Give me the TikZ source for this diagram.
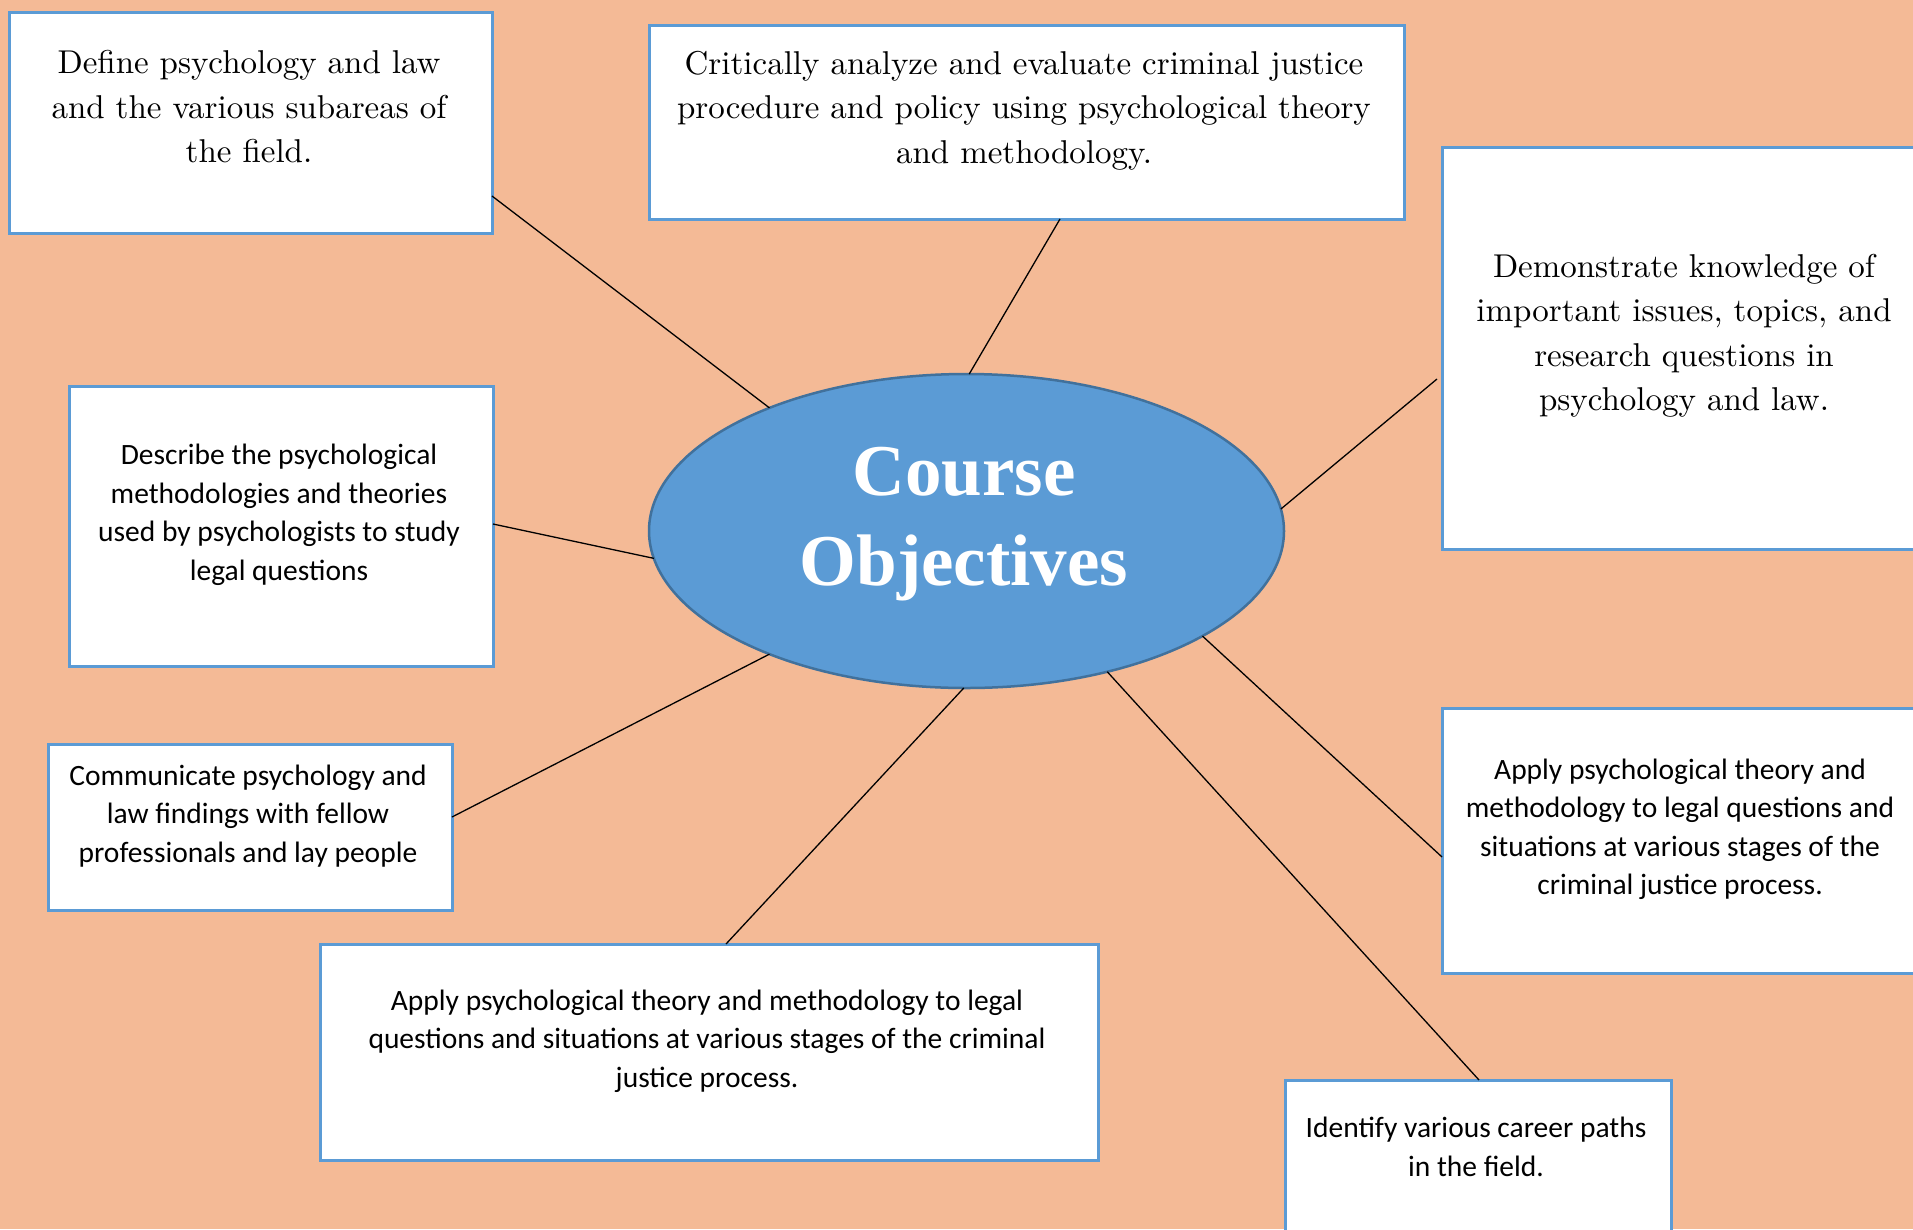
\documentclass[tikz,border=0pt]{standalone}
\usepackage{fontspec}
\usetikzlibrary{shapes.geometric}
\newfontfamily\calib{Carlito}
\newfontfamily\tnr{Liberation Serif}
\newfontfamily\garam{lmroman10-regular.otf}
\definecolor{bgc}{HTML}{F4BA96}
\definecolor{boxline}{HTML}{5B9BD5}
\definecolor{ellfill}{HTML}{5B9BD5}
\definecolor{ellline}{HTML}{41719C}
\tikzset{
  objbox/.style={draw=boxline, line width=3pt, fill=white, rectangle, inner sep=0pt, outer sep=0pt},
  serift/.style={align=center, inner sep=0pt, font=\garam\fontsize{33}{44.5}\selectfont},
  sanst/.style={align=center, inner sep=0pt, font=\calib\fontsize{29.5}{38.5}\selectfont},
  link/.style={draw=black, line width=1.3pt},
}
\begin{document}
\begin{tikzpicture}[x=1pt,y=-1pt]
\clip (0,0) rectangle (1913,1229);
\fill[bgc] (0,0) rectangle (1913,1229);
% boxes
\node[objbox, minimum width=483pt, minimum height=221pt] (b1) at (250.5,122.5) {};
\node[objbox, minimum width=755pt, minimum height=194pt] (b2) at (1026.5,122) {};
\node[objbox, minimum width=483pt, minimum height=402pt] (b3) at (1683.5,348) {};
\node[objbox, minimum width=424pt, minimum height=280pt] (b4) at (281,526) {};
\node[objbox, minimum width=404pt, minimum height=166pt] (b5) at (250,827) {};
\node[objbox, minimum width=778pt, minimum height=216pt] (b6) at (709,1052) {};
\node[objbox, minimum width=483pt, minimum height=265pt] (b7) at (1683.5,840.5) {};
\node[objbox, minimum width=386pt, minimum height=180pt] (b8) at (1478,1170) {};
% central ellipse
\node[ellipse, draw=ellline, line width=2.5pt, fill=ellfill, minimum width=635pt, minimum height=314pt, inner sep=0pt, outer sep=0pt] (e) at (966.5,531) {};
\node[align=center, inner sep=0pt, text=white, font=\tnr\bfseries\fontsize{73}{90}\selectfont] (et) at (964,524) {Course\\Objectives};
% texts
\node[serift] (t1) at (249,107) {Define psychology and law\\and the various subareas of\\the field.};
\node[serift] (t2) at (1024,110.5) {Critically analyze and evaluate criminal justice\\procedure and policy using psychological theory\\and methodology.};
\node[serift] (t3) at (1684,336) {Demonstrate knowledge of\\important issues, topics, and\\research questions in\\psychology and law.};
\node[sanst] (t4) at (279,515) {Describe the psychological\\methodologies and theories\\used by psychologists to study\\legal questions};
\node[sanst] (t5) at (248,816) {Communicate psychology and\\law findings with fellow\\professionals and lay people};
\node[sanst] (t6) at (707,1041) {Apply psychological theory and methodology to legal\\questions and situations at various stages of the criminal\\justice process.};
\node[sanst] (t7) at (1680,829.5) {Apply psychological theory and\\methodology to legal questions and\\situations at various stages of the\\criminal justice process.};
\node[sanst] (t8) at (1476,1147) {Identify various career paths\\in the field.};
% connectors
\draw[link] ([yshift=-73.5pt]b1.east) -- (e.148.5);
\draw[link] ([xshift=33.5pt]b2.south) -- (e.89.5);
\draw[link] ([xshift=-5pt,yshift=-31pt]b3.west) -- (e.4.8);
\draw[link] ([yshift=2pt]b4.east) -- (e.185);
\draw[link] ([yshift=10pt]b5.east) -- (e.212.4);
\draw[link] ([xshift=17pt]b6.north) -- (e.269.1);
\draw[link] ([yshift=-16.5pt]b7.west) -- (e.336.5);
\draw[link] ([xshift=1pt]b8.north) -- (e.315.9);
\end{tikzpicture}
\end{document}
